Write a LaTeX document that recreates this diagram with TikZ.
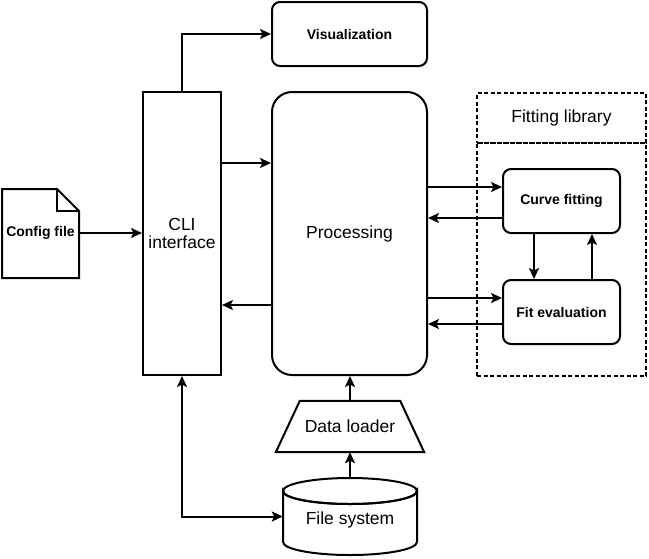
\documentclass[tikz,border=0pt]{standalone}
\usepackage{fontspec}
\setmainfont{Liberation Sans}
\usetikzlibrary{arrows.meta,calc}
\tikzset{
  ln/.style={line width=2pt},
  arr/.style={ln,-{Stealth[length=11pt,width=10pt,inset=2.5pt]}},
  darr/.style={ln,{Stealth[length=11pt,width=10pt,inset=2.5pt]}-{Stealth[length=11pt,width=10pt,inset=2.5pt]}},
  bigtxt/.style={font=\fontsize{17.5}{20}\selectfont},
  smalltxt/.style={font=\bfseries\fontsize{14}{16}\selectfont},
  rbox/.style={draw,ln,fill=white,rounded corners=8pt,minimum width=#1,minimum height=64pt,inner sep=0pt},
  plainbox/.style={inner sep=0pt},
  dashbox/.style={draw,ln,dash pattern=on 4pt off 2.5pt,inner sep=0pt},
}
\begin{document}
\begin{tikzpicture}[x=1pt,y=-1pt]
\useasboundingbox (0,0) rectangle (649,558);
% Visualization
\node[rbox=155pt,smalltxt] (vis) at (349.5,34) {Visualization};
% CLI
\node[draw,ln,fill=white,minimum width=78pt,minimum height=283pt,inner sep=0pt,bigtxt,align=center] (cli) at (182,233.5) {CLI\\[-2pt]interface};
% Processing
\node[draw,ln,fill=white,rounded corners=20pt,minimum width=155pt,minimum height=283pt,inner sep=0pt,bigtxt] (proc) at (349.5,233.5) {Processing};
% Config file
\draw[ln,fill=white,line join=miter] (2,189) -- (57,189) -- (79,211) -- (79,278) -- (2,278) -- cycle;
\draw[ln] (57,189) -- (57,211) -- (79,211);
\node[plainbox,minimum width=77pt,minimum height=89pt,smalltxt] (cfg) at (40.5,233) {Config file};
% Fitting library
\node[dashbox,minimum width=169pt,minimum height=50pt,bigtxt] (flt) at (561.5,118) {Fitting library};
\node[dashbox,minimum width=169pt,minimum height=233pt] (flb) at (561.5,259.5) {};
% Curve fitting, Fit evaluation
\node[rbox=117pt,smalltxt] (cf) at (561.5,201) {Curve fitting};
\node[rbox=117pt,smalltxt] (fe) at (561.5,312) {Fit evaluation};
% Data loader
\node[plainbox,minimum width=148pt,minimum height=51pt,bigtxt] (dl) at (350,426.5) {};
\draw[ln,fill=white,line join=miter] (dl.south west) -- ([xshift=24pt]dl.north west) -- ([xshift=-24pt]dl.north east) -- (dl.south east) -- cycle;
\node[bigtxt] at (dl.center) {Data loader};
% File system
\node[plainbox,minimum width=134pt,minimum height=77pt] (fs) at (350,516.5) {};
\draw[ln,fill=white] (283,491) -- (283,542) arc[start angle=180,end angle=0,x radius=67,y radius=13] -- (417,491) arc[start angle=0,end angle=180,x radius=67,y radius=13] -- cycle;
\draw[ln] (350,491) ellipse [x radius=67,y radius=13];
\node[bigtxt] at ([yshift=-3pt]fs.center) {File system};
% connectors
\draw[arr] (cfg.east) -- (cfg.east -| cli.west);
\draw[arr] (cli.north) |- (vis.west);
\draw[arr] ([yshift=70.5pt]cli.east) -- ([yshift=70.5pt]proc.west);
\draw[arr] ([yshift=-71.5pt]proc.west) -- ([yshift=-71.5pt]cli.east);
\coordinate (cfa) at ([yshift=14pt]cf.west);
\coordinate (cfb) at ([yshift=-17pt]cf.west);
\coordinate (fea) at ([yshift=14pt]fe.west);
\coordinate (feb) at ([yshift=-12pt]fe.west);
\draw[arr] (cfa -| proc.east) -- (cfa);
\draw[arr] (cfb) -- (cfb -| proc.east);
\draw[arr] (fea -| proc.east) -- (fea);
\draw[arr] (feb) -- (feb -| proc.east);
\draw[arr] ([xshift=-27.5pt]cf.south) -- ([xshift=-27.5pt]fe.north);
\draw[arr] ([xshift=30.5pt]fe.north) -- ([xshift=30.5pt]cf.south);
\draw[arr] (dl.north) -- (dl.north |- proc.south);
\draw[arr] (fs.north) -- (fs.north |- dl.south);
\draw[darr] (cli.south) |- (fs.west);
\end{tikzpicture}
\end{document}
